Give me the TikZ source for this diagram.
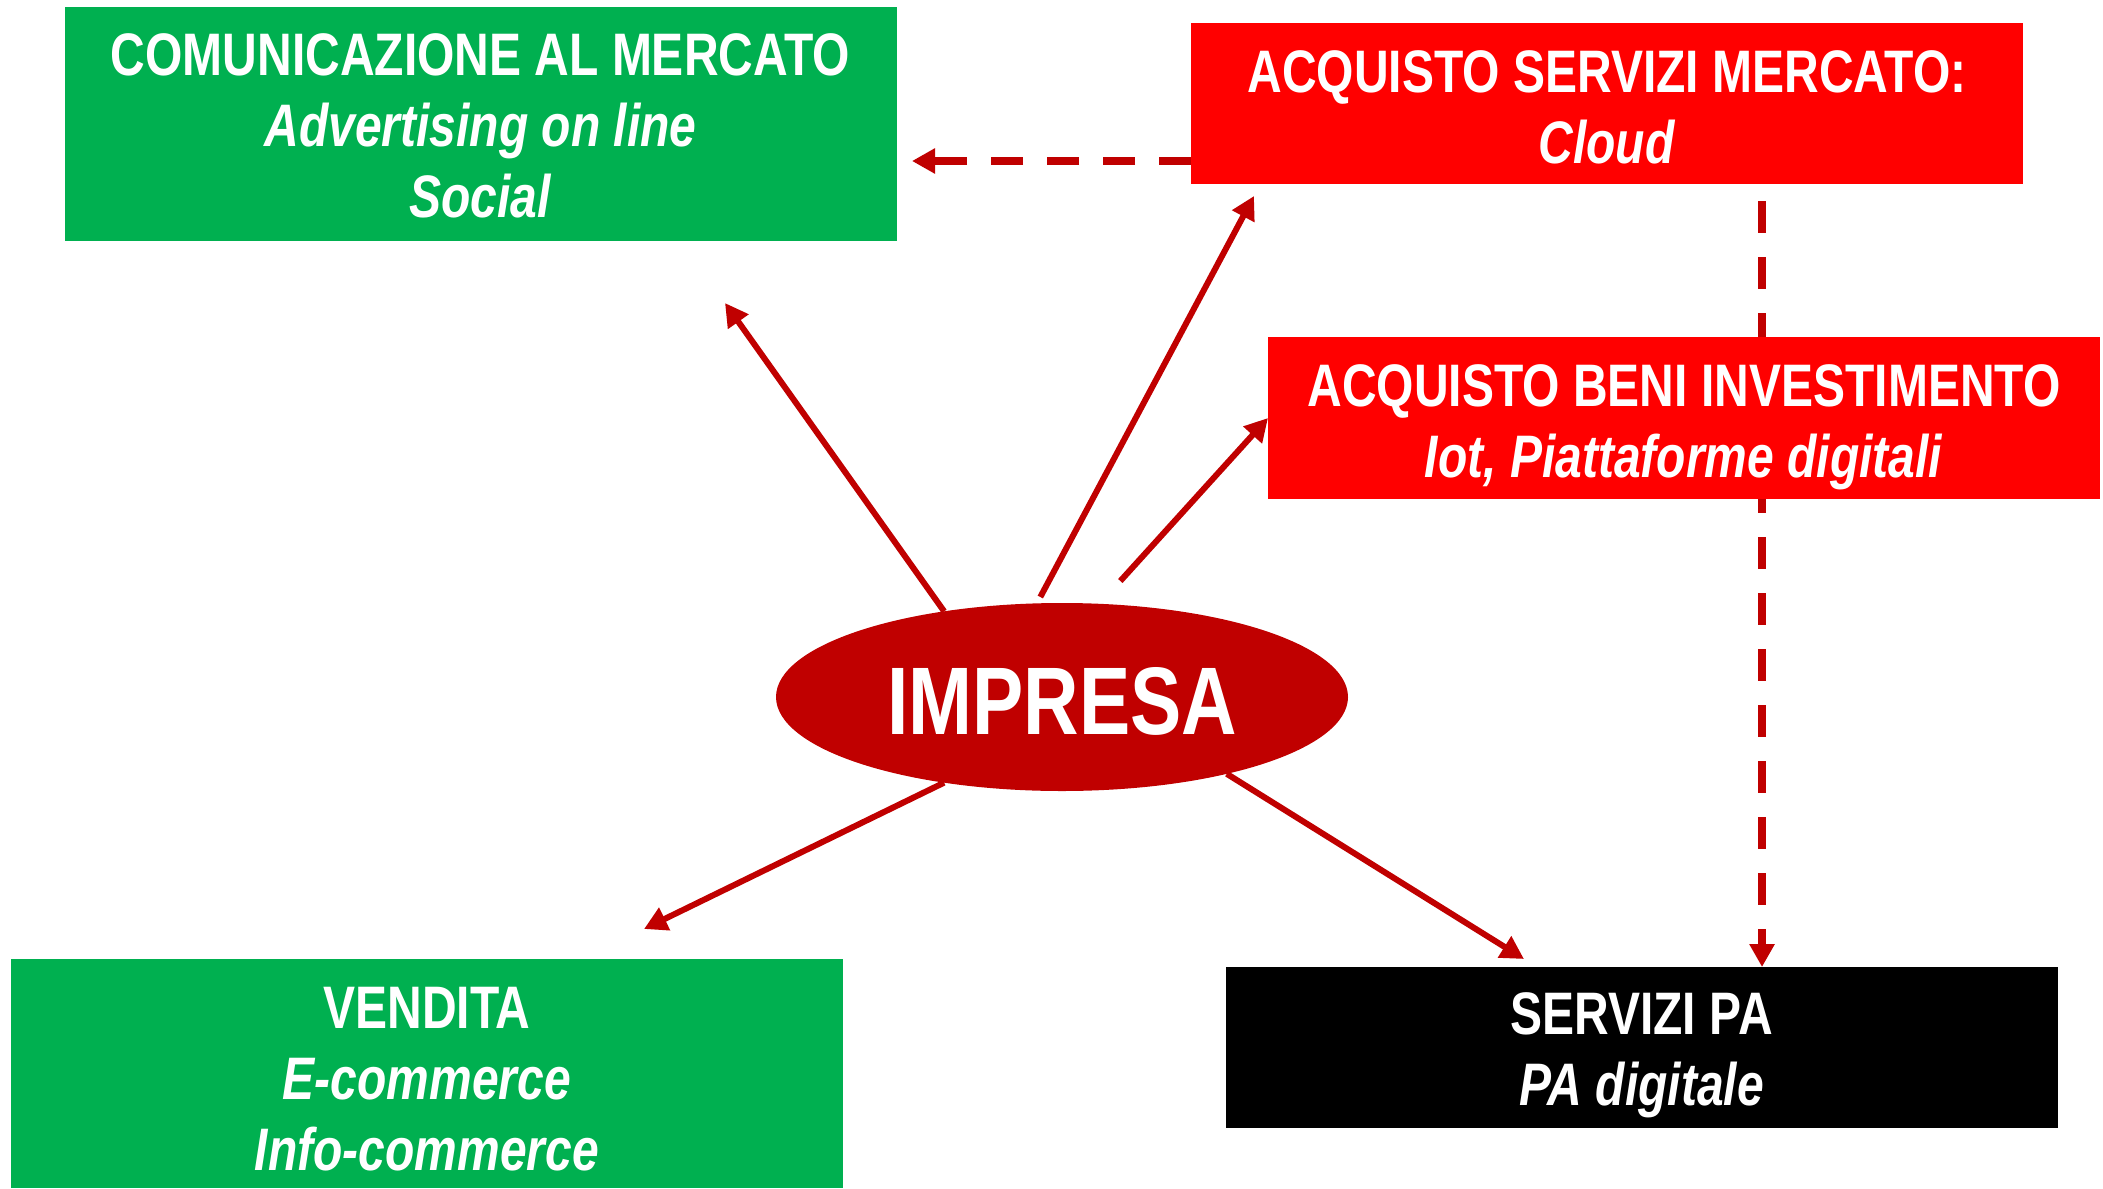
\documentclass[tikz,border=0pt]{standalone}
\usepackage{fontspec}
\setmainfont{Liberation Sans}[FakeStretch=0.8]
\usetikzlibrary{arrows.meta,shapes.geometric}
\pgfdeclarelayer{background}
\pgfsetlayers{background,main}
\definecolor{boxgreen}{HTML}{00B050}
\definecolor{boxred}{HTML}{FF0000}
\definecolor{darkred}{HTML}{C00000}
\newcommand\toplift[1]{\rule{0pt}{#1}}
\begin{document}
\begin{tikzpicture}[x=0.5pt,y=-0.5pt,
  box/.style={rectangle, inner sep=0pt, outer sep=0pt, text=white, align=center,
    font=\bfseries\fontsize{30}{35.5}\selectfont, minimum width=416pt},
  gbox/.style={box, fill=boxgreen},
  rbox/.style={box, fill=boxred},
  kbox/.style={box, fill=black},
  conn/.style={draw=darkred, line width=3pt, -{Triangle[length=11.5pt,width=12pt]}},
  dconn/.style={conn, line width=3.75pt, dash pattern=on 16pt off 12pt}]
\useasboundingbox (0,0) rectangle (2103,1188);
\node[gbox, minimum height=117pt] (comm) at (480.5,124) {\toplift{22.5pt}COMUNICAZIONE AL MERCATO\\\textit{Advertising on line}\\\textit{Social}};
\node[rbox, minimum height=80.5pt] (serv) at (1607,103.5) {\toplift{24.9pt}ACQUISTO SERVIZI MERCATO:\\\textit{Cloud}};
\node[rbox, minimum height=81pt] (beni) at (1684,418) {\toplift{29.9pt}ACQUISTO BENI INVESTIMENTO\\\textit{Iot, Piattaforme digitali}};
\node[gbox, minimum height=114.5pt] (vend) at (427,1073.5) {\toplift{25.9pt}VENDITA\\\textit{E-commerce}\\\textit{Info-commerce}};
\node[kbox, minimum height=80.5pt] (pa) at (1641.5,1047.5) {\toplift{28.9pt}SERVIZI PA\\\textit{PA digitale}};
\node[ellipse, fill=darkred, minimum width=286pt, minimum height=94pt, inner sep=0pt, outer sep=0pt,
  text=white, text height=37.4pt, text depth=0pt,
  font=\bfseries\fontsize{48}{50}\selectfont] (impresa) at (1062,697) {IMPRESA};
\coordinate (t1) at (725,303);
\coordinate (t2) at (1254,196);
\coordinate (t4) at (644,929);
\coordinate (t5) at (1524,959);
\coordinate (t6) at (912,161);
\coordinate (d2s) at (1762,201);
\draw[conn] (impresa.144) -- (t1);
\draw[conn, shorten <=3.6pt] (impresa.105.2) -- (t2);
\draw[conn, shorten <=15.4pt] (impresa.68.8) -- (beni.west);
\draw[conn] (impresa.216) -- (t4);
\draw[conn] (impresa.335) -- (t5);
\begin{pgfonlayer}{background}
\fill[white] (0,0) rectangle (2103,1188);
\draw[dconn] (d2s) -- (d2s |- pa.north);
\end{pgfonlayer}
\draw[dconn] (serv.west |- t6) -- (t6);
\end{tikzpicture}
\end{document}
